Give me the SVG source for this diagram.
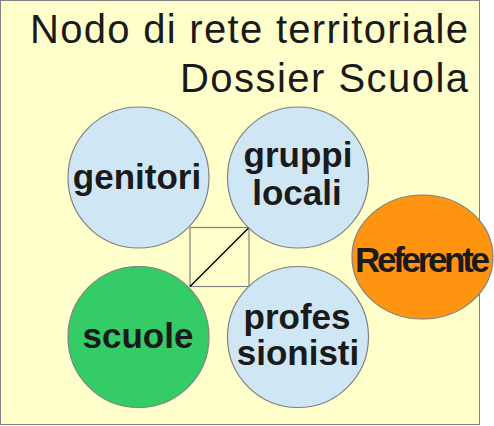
<svg xmlns="http://www.w3.org/2000/svg" width="494" height="426" viewBox="0 0 494 426">
<style>
.bg{fill:#ffffcc;stroke:#808080;stroke-width:1}
.node{stroke:#808080;stroke-width:1.2}
.blue{fill:#cfe7f5}
.green{fill:#33cc66}
.orange{fill:#ff9411}
.t{font-family:"Liberation Sans",Arial,sans-serif;fill:#1a1a1a}
.b{font-weight:bold;font-size:35px;text-anchor:middle}
</style>
<rect class="bg" x="0.5" y="0.5" width="479" height="424"/>
<g id="title">
<text class="t" x="30" y="43" font-size="40" textLength="438">Nodo di rete territoriale</text>
<text class="t" x="180" y="92" font-size="40" textLength="288">Dossier Scuola</text>
</g>
<g id="connectors">
<rect x="190" y="227.5" width="59" height="59" fill="none" stroke="#808080" stroke-width="1.2"/>
<line x1="190" y1="286.5" x2="249" y2="227.5" stroke="#000" stroke-width="1.5"/>
</g>
<g id="genitori">
<circle class="node blue" cx="138.5" cy="177.5" r="70.5"/>
<text class="t b" x="137" y="189">genitori</text>
</g>
<g id="gruppi">
<circle class="node blue" cx="298" cy="177.5" r="70.5"/>
<text class="t b" x="298" y="167">gruppi</text>
<text class="t b" x="297" y="205">locali</text>
</g>
<g id="scuole">
<circle class="node green" cx="138.5" cy="337" r="70.5"/>
<text class="t b" x="138" y="348">scuole</text>
</g>
<g id="professionisti">
<circle class="node blue" cx="298" cy="337" r="70.5"/>
<text class="t b" x="297" y="329">profes</text>
<text class="t b" x="298" y="365">sionisti</text>
</g>
<g id="referente">
<ellipse class="node orange" cx="422.5" cy="257" rx="70.5" ry="62"/>
<text class="t b" x="422.5" y="272" textLength="135">Referente</text>
</g>
</svg>
